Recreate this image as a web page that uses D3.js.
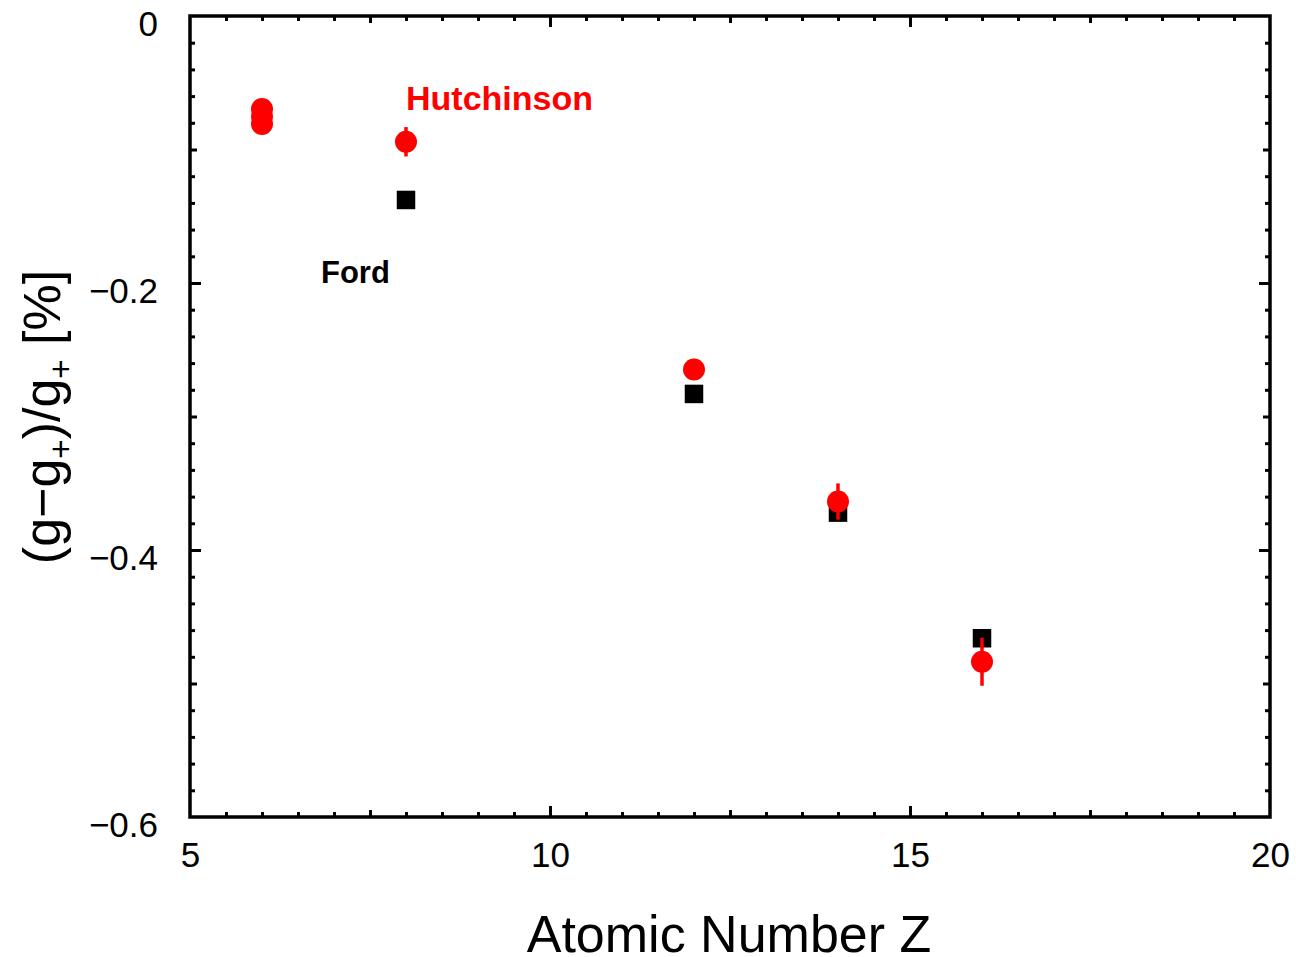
<!DOCTYPE html>
<html>
<head>
<meta charset="utf-8">
<script src="https://cdn.jsdelivr.net/npm/d3@7"></script>
<style>
  body { margin: 0; background: #fff; }
  text { font-family: "Liberation Sans", Arial, sans-serif; }
</style>
</head>
<body>
<div class="chart"></div>
<script>
// data
var hutchZ   = [6, 6, 6, 8, 12, 14, 16];
var hutchVal = [-0.0697, -0.0753, -0.0809, -0.0942, -0.2648, -0.3637, -0.4837];
var hutchErr = [0, 0, 0, 0.011, 0, 0.0136, 0.018];

var fordZ   = [8, 12, 14, 16];
var fordVal = [-0.1378, -0.2831, -0.372, -0.4661];

var xTickLabels = [5, 10, 15, 20];
var yTickLabels = [0, -0.2, -0.4, -0.6];

var svgWidth = 1296;
var svgHeight = 957;

var svg = d3.select(".chart")
  .append("svg")
  .attr("width", svgWidth)
  .attr("height", svgHeight);

var x = d3.scaleLinear().domain([5, 20]).range([190, 1270]);
var y = d3.scaleLinear().domain([-0.6, 0]).range([817, 16]);

// tick sets: minor / medium / major
var xMinor = d3.range(5, 20.001, 0.5).filter(function(v) { return Math.abs(v / 2.5 - Math.round(v / 2.5)) > 1e-6; });
var xMedium = [7.5, 12.5, 17.5];
var xMajor = [10, 15];
var yMinor = d3.range(-0.6, 0.0001, 0.02).filter(function(v) { return Math.abs(v / 0.1 - Math.round(v / 0.1)) > 1e-6; });
var yMedium = [-0.5, -0.3, -0.1];
var yMajor = [-0.4, -0.2];

function tickAxis(axisFn, scale, values, len, transform) {
  var g = svg.append("g")
    .attr("transform", transform)
    .call(axisFn(scale).tickValues(values).tickSize(-len).tickFormat(""));
  g.select(".domain").remove();
  g.selectAll("line").attr("stroke", "#000").attr("stroke-width", 3);
}

[[xMinor, 5], [xMedium, 7], [xMajor, 11]].forEach(function(s) {
  tickAxis(d3.axisBottom, x, s[0], s[1], "translate(0,817)");
  tickAxis(d3.axisTop, x, s[0], s[1], "translate(0,16)");
});
[[yMinor, 5], [yMedium, 7], [yMajor, 11]].forEach(function(s) {
  tickAxis(d3.axisLeft, y, s[0], s[1], "translate(190,0)");
  tickAxis(d3.axisRight, y, s[0], s[1], "translate(1270,0)");
});

// frame
svg.append("rect")
  .attr("x", 190).attr("y", 16)
  .attr("width", 1080).attr("height", 801)
  .attr("fill", "none")
  .attr("stroke", "#000")
  .attr("stroke-width", 3.5);

// tick labels
var xLab = svg.append("g")
  .attr("transform", "translate(0,817)")
  .call(d3.axisBottom(x).tickValues(xTickLabels).tickSize(0).tickPadding(25).tickFormat(d3.format("d")));
xLab.select(".domain").remove();
xLab.selectAll("text").attr("font-size", "35px").attr("font-family", "Liberation Sans, Arial, sans-serif").attr("fill", "#000");

var yLab = svg.append("g")
  .attr("transform", "translate(190,0)")
  .call(d3.axisLeft(y).tickValues(yTickLabels).tickSize(0).tickPadding(32)
    .tickFormat(function(d) { return d === 0 ? "0" : "\u2212" + d3.format(".1f")(-d); }));
yLab.select(".domain").remove();
yLab.selectAll("text").attr("dy", "0.55em").attr("font-size", "35px").attr("font-family", "Liberation Sans, Arial, sans-serif").attr("fill", "#000");

// axis titles
svg.append("text")
  .attr("x", 729).attr("y", 952)
  .attr("text-anchor", "middle")
  .attr("font-size", "52px")
  .text("Atomic Number Z");

var yTitle = svg.append("text")
  .attr("transform", "translate(60,417) rotate(-90)")
  .attr("text-anchor", "middle")
  .attr("font-size", "52px");
yTitle.append("tspan").text("(g\u2212g");
yTitle.append("tspan").attr("font-size", "33px").attr("dy", 12).text("+");
yTitle.append("tspan").attr("dy", -12).text(")/g");
yTitle.append("tspan").attr("font-size", "33px").attr("dy", 12).text("+");
yTitle.append("tspan").attr("dy", -12).text(" [%]");

// Ford squares
var sq = 18.5;
svg.append("g").selectAll("rect")
  .data(fordZ)
  .enter()
  .append("rect")
  .attr("x", function(d) { return x(d) - sq / 2; })
  .attr("y", function(d, i) { return y(fordVal[i]) - sq / 2; })
  .attr("width", sq)
  .attr("height", sq)
  .attr("fill", "#000");

// Hutchinson circles with error bars
var hutch = svg.append("g");
hutch.selectAll("line")
  .data(hutchZ)
  .enter()
  .append("line")
  .attr("x1", function(d) { return x(d); })
  .attr("x2", function(d) { return x(d); })
  .attr("y1", function(d, i) { return y(hutchVal[i] - hutchErr[i]); })
  .attr("y2", function(d, i) { return y(hutchVal[i] + hutchErr[i]); })
  .attr("stroke", "#f00")
  .attr("stroke-width", 3.5);
hutch.selectAll("circle")
  .data(hutchZ)
  .enter()
  .append("circle")
  .attr("cx", function(d) { return x(d); })
  .attr("cy", function(d, i) { return y(hutchVal[i]); })
  .attr("r", 11)
  .attr("fill", "#f00");

// series labels
svg.append("text")
  .attr("x", 406).attr("y", 110)
  .attr("font-size", "34px")
  .attr("font-weight", "bold")
  .attr("fill", "#f00")
  .text("Hutchinson");

svg.append("text")
  .attr("x", 321).attr("y", 283)
  .attr("font-size", "31px")
  .attr("font-weight", "bold")
  .attr("fill", "#000")
  .text("Ford");
</script>
</body>
</html>
